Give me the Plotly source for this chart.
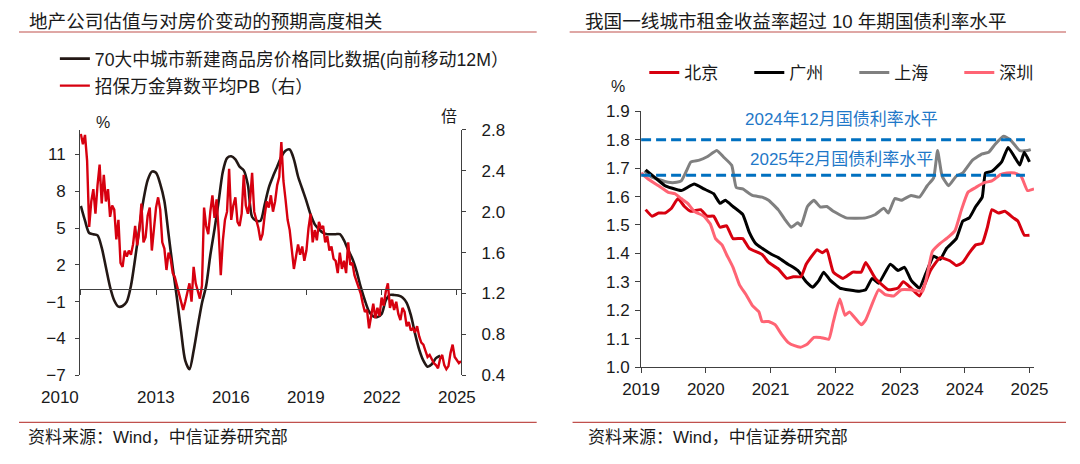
import plotly.graph_objects as go

FONT = "Liberation Sans, Arial, Noto Sans CJK SC, sans-serif"
TXT = "#1a1a1a"
AX = "#404040"

# ---------------- Left chart data ----------------
left_title = "地产公司估值与对房价变动的预期高度相关"
black_name = "70大中城市新建商品房价格同比数据(向前移动12M）"
red_name = "招保万金算数平均PB（右）"

# 70-city new home price YoY (%), bi-monthly, starting Jan 2010 (shifted forward 12M)
black_start = 2010.0
black_step = 1 / 6
black_yoy = [
    6.8, 5.6, 4.6, 4.5, 4.4, 3.4,
    1.8, 0.2, -0.9, -1.4, -1.35, -1.0,
    0.3, 2.5, 5.0, 7.3, 8.9, 9.6,
    9.5, 8.6, 7.2, 4.5, 1.8, -0.7,
    -3.4, -5.8, -6.5, -5.0, -3.0, -1.1,
    0.3, 2.8, 4.9, 7.2, 9.6, 10.7,
    10.85, 10.6, 10.0, 9.7, 8.5, 5.9,
    5.6, 5.6, 6.9, 8.3, 9.2, 10.0,
    10.8, 11.3, 11.4, 10.6, 9.2, 8.2,
    7.2, 6.1, 5.3, 4.9, 4.6, 4.5,
    4.5, 4.5, 4.5, 4.0, 3.2, 2.5,
    1.5, 0.2, -0.9, -1.8, -2.2, -2.25,
    -2.0, -0.9, -0.45, -0.45, -0.5, -0.65,
    -1.1, -2.1, -3.6, -4.9, -5.8, -6.3,
    -6.1, -5.6, -5.4,
]

# average PB (x), monthly from Jan 2010
red_start = 2010.0
red_step = 1 / 12
red_pb = [
    2.76, 2.66, 2.75, 2.50, 1.85, 2.10, 2.22, 1.98, 2.26, 2.46, 2.08, 2.36,
    2.10, 2.22, 1.95, 2.06, 2.02, 1.73, 1.92, 1.50, 1.46, 1.62, 1.56, 1.62,
    1.58, 1.68, 1.86, 1.67, 1.82, 2.08, 1.70, 1.75, 1.96, 2.04, 1.62, 1.84,
    2.04, 2.14, 2.02, 1.70, 1.64, 1.43, 1.60, 1.54, 1.40, 1.36, 1.28, 1.22,
    1.14, 1.04, 1.12, 1.20, 1.30, 1.12, 1.46, 1.30, 1.22, 1.15, 1.28, 2.04,
    1.86, 1.78, 2.00, 2.16, 1.94, 2.12, 1.80, 1.38, 1.72, 1.92, 2.00, 2.42,
    1.92, 2.06, 2.14, 1.90, 1.86, 1.98, 2.36, 2.06, 1.98, 2.10, 2.38, 2.00,
    1.92, 1.84, 1.72, 1.78, 1.96, 2.10, 2.04, 2.16, 2.00, 2.10, 2.26, 2.34,
    2.68, 2.30, 2.12, 1.92, 1.82, 1.62, 1.44, 1.56, 1.68, 1.58, 1.66, 1.52,
    1.62, 1.84, 1.98, 1.70, 1.82, 1.72, 1.90, 1.84, 1.86, 1.70, 1.76, 1.62,
    1.66, 1.54, 1.52, 1.40, 1.60, 1.44, 1.52, 1.40, 1.70, 1.48, 1.50, 1.38,
    1.32, 1.26, 1.20, 1.10, 1.02, 1.04, 0.86, 0.98, 1.10, 0.96, 1.06, 0.98,
    1.16, 1.08, 1.22, 1.30, 1.06, 1.14, 1.04, 1.12, 1.00, 0.94, 1.06, 1.02,
    0.88, 0.92, 0.84, 0.86, 0.82, 0.88, 0.78, 0.72, 0.70, 0.64, 0.58, 0.60,
    0.56, 0.52, 0.50, 0.47, 0.56, 0.60, 0.50, 0.46, 0.49, 0.62, 0.70, 0.58,
    0.55, 0.52, 0.54,
]

left_x_ticks = [2010, 2013, 2016, 2019, 2022, 2025]
left_y_ticks = [-7, -4, -1, 2, 5, 8, 11]
pb_ticks = [0.4, 0.8, 1.2, 1.6, 2.0, 2.4, 2.8]

# ---------------- Right chart data ----------------
right_title = "我国一线城市租金收益率超过 10 年期国债利率水平"
bj_x = [2019.07, 2019.17, 2019.27, 2019.37, 2019.47, 2019.57, 2019.67, 2019.77, 2019.92, 2020.02,
        2020.12, 2020.22, 2020.32, 2020.42, 2020.57, 2020.67, 2020.87, 2020.97, 2021.12, 2021.25,
        2021.35, 2021.47, 2021.55, 2021.6, 2021.72, 2021.8, 2021.87, 2021.97, 2022.12, 2022.27,
        2022.4, 2022.47, 2022.62, 2022.82, 2022.97, 2023.05, 2023.17, 2023.3, 2023.47, 2023.62,
        2023.77, 2023.87, 2023.97, 2024.07, 2024.17, 2024.27, 2024.35, 2024.42, 2024.52, 2024.62,
        2024.75, 2024.82, 2024.92, 2025.0]
bj_y = [1.554, 1.531, 1.542, 1.542, 1.559, 1.593, 1.565, 1.548, 1.554, 1.531,
        1.531, 1.492, 1.497, 1.452, 1.452, 1.418, 1.396, 1.368, 1.345, 1.312,
        1.318, 1.318, 1.362, 1.379, 1.413, 1.402, 1.413, 1.334, 1.312, 1.334,
        1.334, 1.368, 1.312, 1.272, 1.278, 1.300, 1.278, 1.250, 1.340, 1.385,
        1.374, 1.357, 1.368, 1.402, 1.430, 1.435, 1.492, 1.554, 1.542, 1.548,
        1.525, 1.514, 1.464, 1.464]

gz_x = [2019.07, 2019.22, 2019.37, 2019.47, 2019.62, 2019.82, 2019.97, 2020.12, 2020.22, 2020.3,
        2020.42, 2020.57, 2020.67, 2020.77, 2020.87, 2021.02, 2021.12, 2021.27, 2021.42, 2021.55,
        2021.65, 2021.75, 2021.82, 2021.92, 2022.07, 2022.37, 2022.47, 2022.57, 2022.67, 2022.85,
        2022.97, 2023.07, 2023.17, 2023.3, 2023.4, 2023.52, 2023.62, 2023.72, 2023.87, 2023.97,
        2024.07, 2024.17, 2024.27, 2024.32, 2024.42, 2024.57, 2024.67, 2024.77, 2024.85, 2024.92,
        2025.0]
gz_y = [1.694, 1.666, 1.638, 1.630, 1.621, 1.644, 1.627, 1.610, 1.576, 1.587,
        1.565, 1.537, 1.475, 1.435, 1.418, 1.396, 1.385, 1.362, 1.340, 1.300,
        1.281, 1.306, 1.334, 1.306, 1.278, 1.267, 1.272, 1.312, 1.295, 1.362,
        1.340, 1.351, 1.306, 1.278, 1.330, 1.390, 1.379, 1.418, 1.452, 1.514,
        1.525, 1.565, 1.598, 1.683, 1.689, 1.722, 1.773, 1.739, 1.711, 1.756,
        1.722]

sh_x = [2019.05, 2019.15, 2019.27, 2019.42, 2019.55, 2019.62, 2019.7, 2019.77, 2019.9, 2020.02,
        2020.17, 2020.27, 2020.4, 2020.47, 2020.57, 2020.72, 2020.87, 2020.97, 2021.12, 2021.22,
        2021.32, 2021.42, 2021.47, 2021.57, 2021.67, 2021.77, 2021.87, 2021.97, 2022.17, 2022.47,
        2022.62, 2022.75, 2022.82, 2022.92, 2023.02, 2023.17, 2023.3, 2023.42, 2023.52, 2023.58,
        2023.65, 2023.75, 2023.87, 2023.97, 2024.12, 2024.27, 2024.37, 2024.47, 2024.6, 2024.7,
        2024.85, 2024.97, 2025.02]
sh_y = [1.690, 1.670, 1.660, 1.650, 1.650, 1.655, 1.690, 1.722, 1.728, 1.740,
        1.762, 1.740, 1.710, 1.632, 1.627, 1.604, 1.598, 1.587, 1.553, 1.520,
        1.492, 1.508, 1.497, 1.565, 1.587, 1.563, 1.565, 1.548, 1.525, 1.525,
        1.537, 1.559, 1.542, 1.593, 1.587, 1.604, 1.598, 1.638, 1.666, 1.762,
        1.672, 1.638, 1.672, 1.683, 1.728, 1.750, 1.756, 1.784, 1.812, 1.801,
        1.762, 1.762, 1.765]

sz_x = [2019.0, 2019.12, 2019.27, 2019.42, 2019.52, 2019.62, 2019.72, 2019.82, 2019.97, 2020.07,
        2020.15, 2020.25, 2020.32, 2020.42, 2020.52, 2020.62, 2020.72, 2020.82, 2020.87, 2020.97,
        2021.07, 2021.17, 2021.27, 2021.37, 2021.47, 2021.57, 2021.67, 2021.77, 2021.9, 2021.97,
        2022.07, 2022.15, 2022.22, 2022.4, 2022.47, 2022.67, 2022.77, 2022.9, 2023.02, 2023.17,
        2023.35, 2023.5, 2023.62, 2023.75, 2023.85, 2023.95, 2024.05, 2024.17, 2024.3, 2024.42,
        2024.55, 2024.65, 2024.77, 2024.87, 2024.97, 2025.07]
sz_y = [1.683, 1.660, 1.638, 1.615, 1.610, 1.593, 1.576, 1.548, 1.531, 1.503,
        1.452, 1.430, 1.396, 1.351, 1.289, 1.255, 1.216, 1.194, 1.160, 1.160,
        1.149, 1.115, 1.087, 1.075, 1.070, 1.081, 1.104, 1.104, 1.098, 1.160,
        1.239, 1.182, 1.194, 1.149, 1.166, 1.272, 1.255, 1.250, 1.272, 1.272,
        1.267, 1.407, 1.435, 1.458, 1.480, 1.554, 1.615, 1.632, 1.649, 1.655,
        1.677, 1.683, 1.683, 1.672, 1.621, 1.627]

bond_levels = [1.80, 1.675]
bond_labels = ["2024年12月国债利率水平", "2025年2月国债利率水平"]
bond_end = 2024.93
right_x_ticks = [2019, 2020, 2021, 2022, 2023, 2024, 2025]
right_y_ticks = [1.0, 1.1, 1.2, 1.3, 1.4, 1.5, 1.6, 1.7, 1.8, 1.9]
source_text = "资料来源：Wind，中信证券研究部"

# ---------------- geometry ----------------
W, H = 1080, 464
def px(x):
    return x / W
def py(y):
    return 1 - y / H

L_X0, L_X1 = 63, 456
L_Y0, L_Y1 = 382, 126
R_X0, R_X1 = 641.7, 1047
R_Y0, R_Y1 = 373.3, 106.7
L_YR = [-7, 13]
L_Y2R = [0.4, 2.8]
L_XR = [2009.97, 2025.17]
R_XR = [2019, 2025.07]
R_YR = [1.0, 1.9]

fig = go.Figure()

fig.add_trace(go.Scatter(
    x=[black_start + i * black_step for i in range(len(black_yoy))], y=black_yoy,
    mode="lines", line=dict(color="#231815", width=2.6, shape="spline", smoothing=0.8),
    name=black_name, xaxis="x", yaxis="y", legend="legend", legendgroup="a"))
fig.add_trace(go.Scatter(
    x=[red_start + i * red_step for i in range(len(red_pb))], y=red_pb,
    mode="lines", line=dict(color="#d7000f", width=2.4),
    name=red_name, xaxis="x", yaxis="y2", legend="legend", legendgroup="b"))

right_series = [
    ("上海", sh_x, sh_y, "#808080", 3),
    ("广州", gz_x, gz_y, "#000000", 2),
    ("北京", bj_x, bj_y, "#d7000f", 1),
    ("深圳", sz_x, sz_y, "#ff6474", 4),
]
for name, xs, ys, col, rank in right_series:
    fig.add_trace(go.Scatter(
        x=xs, y=ys, mode="lines", name=name, legendrank=rank,
        line=dict(color=col, width=3, shape="spline", smoothing=0.4),
        xaxis="x3", yaxis="y3", legend="legend2"))

# bond reference lines
for lvl in bond_levels:
    fig.add_shape(type="line", xref="x3", yref="y3", x0=R_XR[0], x1=bond_end, y0=lvl, y1=lvl,
                  line=dict(color="#0070c0", width=3, dash="10px,5px"))

annotations = []
for lvl, lab, dy in zip(bond_levels, bond_labels, [0.072, 0.055]):
    annotations.append(dict(text=lab, xref="x3", yref="y3", x=2022.1, y=lvl + dy,
                            showarrow=False, font=dict(size=17, color="#1f78c8", family=FONT)))

# left x tick labels (the axis itself sits on the zero line)
for t in left_x_ticks:
    annotations.append(dict(text=str(t), xref="x", yref="paper", x=t, y=py(405),
                            xanchor="right" if t == left_x_ticks[0] else "center", yanchor="middle",
                            showarrow=False, font=dict(size=17, color=TXT, family=FONT)))

# titles, units, sources
annotations += [
    dict(text=left_title, xref="paper", yref="paper", x=px(8), y=py(13), xanchor="left", yanchor="middle",
         showarrow=False, font=dict(size=18.6, color=TXT, family=FONT)),
    dict(text=right_title, xref="paper", yref="paper", x=px(582), y=py(13), xanchor="left", yanchor="middle",
         showarrow=False, font=dict(size=18.6, color=TXT, family=FONT)),
    dict(text="%", xref="paper", yref="paper", x=px(87), y=py(118), xanchor="center", yanchor="middle",
         showarrow=False, font=dict(size=16, color=TXT, family=FONT)),
    dict(text="倍", xref="paper", yref="paper", x=px(444), y=py(112), xanchor="center", yanchor="middle",
         showarrow=False, font=dict(size=16, color=TXT, family=FONT)),
    dict(text="%", xref="paper", yref="paper", x=px(618), y=py(81), xanchor="center", yanchor="middle",
         showarrow=False, font=dict(size=16, color=TXT, family=FONT)),
    dict(text=source_text, xref="paper", yref="paper", x=px(7), y=py(447), xanchor="left", yanchor="middle",
         showarrow=False, font=dict(size=17, color=TXT, family=FONT)),
    dict(text=source_text, xref="paper", yref="paper", x=px(585), y=py(447), xanchor="left", yanchor="middle",
         showarrow=False, font=dict(size=17, color=TXT, family=FONT)),
]

# header / footer rules
for (x0, x1, y) in [(0, 534, 24), (568, 1080, 24), (0, 534, 431), (571, 1080, 431)]:
    fig.add_shape(type="line", xref="paper", yref="paper", x0=px(x0), x1=px(x1), y0=py(y), y1=py(y),
                  line=dict(color="#c0504d", width=1.2))

tickfont = dict(size=17, color=TXT, family=FONT)
zero_pos = py(L_Y0) + (0 - L_YR[0]) / (L_YR[1] - L_YR[0]) * (py(L_Y1) - py(L_Y0))

fig.update_layout(
    width=W, height=H, margin=dict(l=0, r=0, t=0, b=0),
    paper_bgcolor="white", plot_bgcolor="white",
    font=dict(family=FONT, color=TXT),
    annotations=annotations,
    xaxis=dict(domain=[px(L_X0), px(L_X1)], range=L_XR, anchor="free", position=zero_pos,
               showgrid=False, zeroline=False, showline=True, linecolor=AX, linewidth=1,
               ticks="outside", ticklen=5, tickcolor=AX, tickvals=left_x_ticks, showticklabels=False),
    yaxis=dict(domain=[py(L_Y0), py(L_Y1)], range=L_YR, anchor="x", tickvals=left_y_ticks,
               showgrid=False, zeroline=False, showline=True, linecolor=AX, linewidth=1,
               ticks="outside", ticklen=4, tickcolor=AX, tickfont=tickfont, ticklabelstandoff=6),
    yaxis2=dict(range=L_Y2R, overlaying="y", side="right", anchor="x", tickvals=pb_ticks,
                tickformat=".1f", showgrid=False, zeroline=False, showline=True, linecolor=AX,
                linewidth=1, ticks="outside", ticklen=4, tickcolor=AX, tickfont=tickfont,
                ticklabelstandoff=12),
    xaxis3=dict(domain=[px(R_X0), px(R_X1)], range=R_XR, anchor="y3", tickvals=right_x_ticks,
                showgrid=False, zeroline=False, showline=True, linecolor=AX, linewidth=1,
                ticks="outside", ticklen=5, tickcolor=AX, tickfont=tickfont, ticklabelstandoff=2),
    yaxis3=dict(domain=[py(R_Y0), py(R_Y1)], range=R_YR, anchor="x3", tickvals=right_y_ticks,
                tickformat=".1f", showgrid=False, zeroline=False, showline=True, linecolor=AX,
                linewidth=1, ticks="outside", ticklen=5, tickcolor=AX, tickfont=tickfont,
                ticklabelstandoff=2),
    legend=dict(x=px(37), y=py(33), xanchor="left", yanchor="top", orientation="v",
                font=dict(size=17.7, color=TXT, family=FONT), bgcolor="rgba(0,0,0,0)",
                tracegroupgap=1, itemclick=False),
    legend2=dict(x=px(645), y=py(48), xanchor="left", yanchor="top", orientation="h",
                 font=dict(size=17, color=TXT, family=FONT), bgcolor="rgba(0,0,0,0)",
                 entrywidth=60, entrywidthmode="pixels", traceorder="normal"),
)

fig.write_html("out.html")
